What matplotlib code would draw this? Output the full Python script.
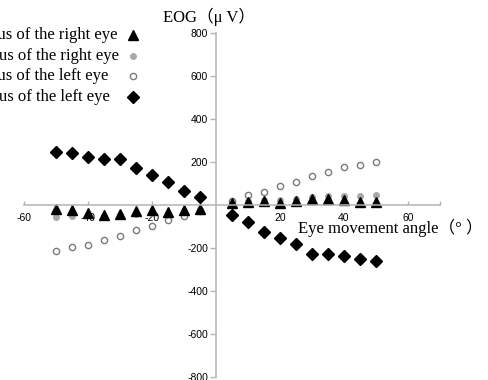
import matplotlib
matplotlib.use("Agg")
import matplotlib.pyplot as plt
from matplotlib.lines import Line2D

plt.rcParams['axes.unicode_minus'] = False

# ---- data ----
angles = [-50, -45, -40, -35, -30, -25, -20, -15, -10, -5,
          5, 10, 15, 20, 25, 30, 35, 40, 45, 50]
right_eye_a = [-20, -21, -37, -46, -43, -29, -25, -33, -21, -17,
               11, 14, 17, 9, 18, 30, 30, 22, 14, 14]
right_eye_b = [-56, -52, -45, -50, -48, -40, -35, -40, -30, -25,
               15, 20, 22, 25, 30, 35, 40, 43, 41, 45]
left_eye_a = [-212, -197, -185, -163, -146, -116, -96, -72, -53, -30,
              20, 45, 61, 88, 105, 136, 152, 175, 187, 202]
left_eye_b = [246, 240, 222, 215, 212, 174, 140, 108, 67, 36,
              -48, -80, -124, -155, -182, -229, -229, -237, -252, -260]
labels = ["L stimulus of the right eye", "R stimulus of the right eye",
          "L stimulus of the left eye", "R stimulus of the left eye"]
xticks = [-60, -40, -20, 20, 40, 60]
yticks = [-800, -600, -400, -200, 200, 400, 600, 800]

W, H = 488, 380
fig = plt.figure(figsize=(W / 100, H / 100), dpi=100)
ax = fig.add_axes([24 / W, 3 / H, 416 / W, 344 / H])
ax.set_xlim(-60, 70)
ax.set_ylim(-800, 800)

gray_axis = '#b4b4b4'
for s in ['top', 'right']:
    ax.spines[s].set_visible(False)
ax.spines['left'].set_position(('data', 0))
ax.spines['bottom'].set_position(('data', 0))
for s in ['left', 'bottom']:
    ax.spines[s].set_color(gray_axis)
    ax.spines[s].set_linewidth(1.1)

styles = [
    dict(marker='^', ms=7, color='black', ls='none'),
    dict(marker='o', ms=4, color='#a8a8a8', mec='#a8a8a8', ls='none'),
    dict(marker='o', ms=4.5, mfc='white', mec='#7a7a7a', mew=1, ls='none'),
    dict(marker='D', ms=6, color='black', ls='none'),
]
ax.plot(angles, right_eye_b, **styles[1], zorder=2)
ax.plot(angles, left_eye_a, **styles[2], zorder=2.1)
ax.plot(angles, right_eye_a, **styles[0], zorder=2.2)
ax.plot(angles, left_eye_b, **styles[3], zorder=2.3)

ax.set_yticks(yticks)
ax.set_xticks(xticks)
ax.set_xticks([70], minor=True)
ax.tick_params(axis='y', direction='out', length=4.3, width=1, color=gray_axis,
               labelsize=7.5, pad=1.5)
ax.tick_params(axis='x', which='both', direction='in', length=3, width=1, color=gray_axis,
               labelsize=7.5, pad=5.5)
for t in ax.get_xticklabels() + ax.get_yticklabels():
    t.set_fontfamily('Liberation Sans')

serif = ['Liberation Serif', 'Noto Sans CJK SC', 'DejaVu Sans']
fig.text(163 / W, 1 - 22 / H, "EOG（μ V）", family=serif, fontsize=12,
         ha='left', va='baseline')
fig.text(298 / W, 1 - 233 / H, "Eye movement angle（° ）", family=serif, fontsize=12,
         ha='left', va='baseline')

# legend: left-aligned labels with markers in a column on the right
renderer = fig.canvas.get_renderer()
texts = []
for i, lab in enumerate(labels):
    yc = 35 + 20.7 * i
    t = fig.text(0, 1 - (yc + 4) / H, lab, family='Liberation Serif', fontsize=12,
                 ha='left', va='baseline')
    texts.append(t)
    fig.add_artist(Line2D([133 / W], [1 - yc / H], transform=fig.transFigure, **styles[i]))
w0 = texts[0].get_window_extent(renderer).width
x0 = (118 - w0) / W
for t in texts:
    t.set_x(x0)

fig.savefig('out.png', dpi=100)
